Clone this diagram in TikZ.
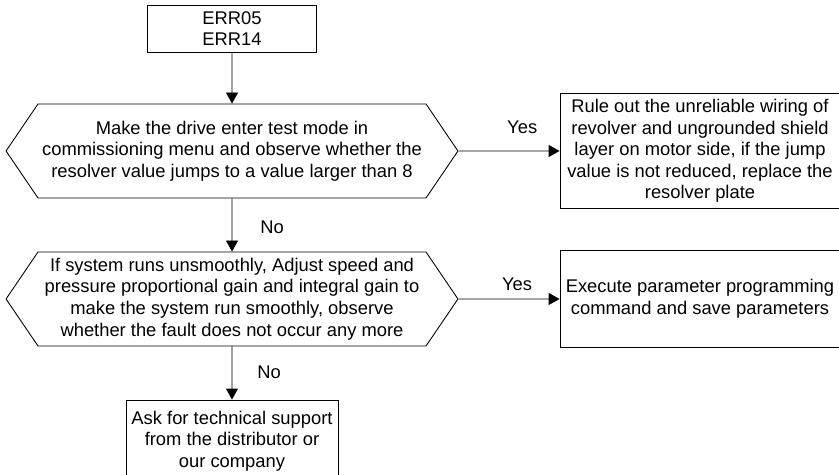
\documentclass[tikz,border=0pt]{standalone}
\usepackage{fontspec}
\setmainfont{Liberation Sans}
\usetikzlibrary{arrows.meta,positioning,shapes.symbols}

\begin{document}
\begin{tikzpicture}[
  x=0.02cm, y=-0.02cm,
  font=\fontsize{10.45}{12.3}\selectfont,
  blk/.style={draw,line width=0.5pt,align=center,inner sep=0pt},
  dec/.style={signal,signal to=west and east,signal pointer angle=111.6,
              draw,line width=0.5pt,align=center,inner sep=0pt,
              minimum width=9.04cm,minimum height=1.88cm},
  flw/.style={-{Triangle[length=0.22cm,width=0.24cm]},line width=0.5pt},
  lbl/.style={inner sep=0pt}]
\useasboundingbox (0,0) rectangle (839,475);

% ---------------- fault codes ----------------
\node[blk,minimum width=3.38cm,minimum height=0.94cm] (err) at (232,28.5)
  {ERR05\\ERR14};

% ---------------- first check: resolver ----------------
\node[dec] (q1) at (232,151)
  {Make the drive enter test mode in\\commissioning menu and observe whether the\\resolver value jumps to a value larger than 8};
\node[blk,minimum width=5.6cm,minimum height=2.3cm] (rule) at (700,151)
  {Rule out the unreliable wiring of\\revolver and ungrounded shield\\layer on motor side, if the jump\\value is not reduced, replace the\\resolver plate};
\draw[flw] (err) -- (q1);
\draw[flw] (q1) -- node[lbl,pos=0.63,above=0.33cm] {Yes} (rule);

% ---------------- second check: gains ----------------
\node[dec] (q2) at (232,299)
  {If system runs unsmoothly, Adjust speed and\\pressure proportional gain and integral gain to\\make the system run smoothly, observe\\whether the fault does not occur any more};
\node[blk,minimum width=5.6cm,minimum height=1.94cm] (save) at (700,299)
  {Execute parameter programming\\command and save parameters};
\draw[flw] (q1) -- node[lbl,pos=0.54,right=0.56cm] {No} (q2);
\draw[flw] (q2) -- node[lbl,pos=0.58,above=0.15cm] {Yes} (save);

% ---------------- support ----------------
\node[blk,minimum width=4.24cm,minimum height=1.64cm] (ask) at (232,441)
  {Ask for technical support\\from the distributor or\\our company};
\draw[flw] (q2) -- node[lbl,pos=0.48,right=0.5cm] {No} (ask);
\end{tikzpicture}
\end{document}
